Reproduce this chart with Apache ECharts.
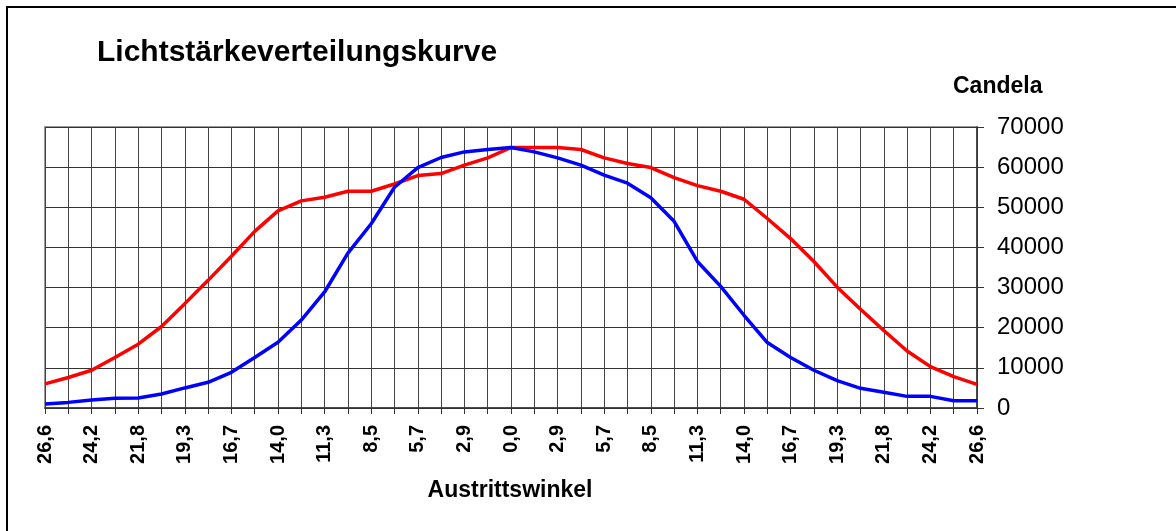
<!DOCTYPE html>
<html>
<head>
<meta charset="utf-8">
<script src="https://cdn.jsdelivr.net/npm/echarts@6.0.0/dist/echarts.min.js"></script>
<style>
  html, body { margin: 0; padding: 0; background: #fff; }
  #chart { width: 1176px; height: 531px; }
</style>
</head>
<body>
<div id="chart"></div>
<script>
// Austrittswinkel in Grad, von -26,6 über 0 bis +26,6 (nur Betrag beschriftet)
const angles = [
  '26,6', '25,4', '24,2', '23,0', '21,8', '20,6', '19,3', '18,0', '16,7', '15,4',
  '14,0', '12,7', '11,3', '9,9', '8,5', '7,1', '5,7', '4,3', '2,9', '1,4',
  '0,0',
  '1,4', '2,9', '4,3', '5,7', '7,1', '8,5', '9,9', '11,3', '12,7',
  '14,0', '15,4', '16,7', '18,0', '19,3', '20,6', '21,8', '23,0', '24,2', '25,4', '26,6'
];

// Lichtstärke in Candela
const redCurve = [
  6000, 7600, 9400, 12600, 15900, 20300, 26000, 31800, 37800, 44000,
  49100, 51600, 52500, 54000, 54000, 55800, 57900, 58400, 60500, 62300,
  64900,
  64900, 64900, 64400, 62300, 60900, 59900, 57400, 55400, 54000,
  52000, 47200, 42200, 36500, 30100, 24600, 19300, 14200, 10300, 7800, 5900
];

const blueCurve = [
  1000, 1400, 2000, 2400, 2500, 3500, 5000, 6400, 8900, 12600,
  16400, 21900, 28900, 38600, 45900, 55000, 59900, 62400, 63800, 64400,
  64900,
  63800, 62300, 60500, 58000, 56000, 52400, 46500, 36500, 30300,
  23100, 16300, 12600, 9400, 6800, 4900, 3900, 2900, 2900, 1800, 1800
];

const yTicks = [0, 10000, 20000, 30000, 40000, 50000, 60000, 70000];

const fontFamily = '"Liberation Sans", Arial, sans-serif';

function makeLineSeries(name, data, color) {
  return {
    name: name,
    type: 'line',
    data: data,
    showSymbol: false,
    symbol: 'none',
    smooth: false,
    lineStyle: { color: color, width: 3.5 },
    z: 5
  };
}

const chart = echarts.init(document.getElementById('chart'), null, { renderer: 'canvas' });

const option = {
  backgroundColor: '#fff',
  animation: false,
  title: {
    text: 'Lichtstärkeverteilungskurve',
    left: 97,
    top: 38,
    padding: 0,
    textStyle: { fontFamily: fontFamily, fontSize: 30, fontWeight: 'bold', color: '#000' }
  },
  graphic: [
    {
      type: 'rect',
      shape: { x: 7, y: 7, width: 1220, height: 600 },
      style: { fill: null, stroke: '#000', lineWidth: 2 },
      silent: true
    },
    {
      type: 'text',
      x: 953,
      y: 75,
      style: {
        text: 'Candela',
        fill: '#000',
        font: 'bold 23px ' + fontFamily
      }
    },
    {
      type: 'text',
      x: 510,
      y: 479,
      style: {
        text: 'Austrittswinkel',
        fill: '#000',
        textAlign: 'center',
        font: 'bold 23px ' + fontFamily
      }
    }
  ],
  grid: {
    left: 45,
    top: 127,
    width: 932,
    height: 281,
    show: true,
    borderColor: '#999',
    borderWidth: 2,
    backgroundColor: '#fff'
  },
  xAxis: {
    type: 'category',
    data: angles,
    boundaryGap: false,
    axisLine: { show: true, lineStyle: { color: '#333', width: 1.5 } },
    axisTick: { show: true, interval: 0, length: 6, lineStyle: { color: '#333' } },
    splitLine: { show: true, interval: 0, lineStyle: { color: '#444', width: 1 } },
    axisLabel: {
      interval: 1,
      rotate: 90,
      margin: 17,
      color: '#000',
      fontFamily: fontFamily,
      fontSize: 20,
      fontWeight: 'bold'
    }
  },
  yAxis: {
    type: 'value',
    position: 'right',
    min: yTicks[0],
    max: yTicks[yTicks.length - 1],
    interval: 10000,
    axisLine: { show: true, lineStyle: { color: '#333', width: 1.5 } },
    axisTick: { show: true, length: 7, lineStyle: { color: '#333' } },
    splitLine: { show: true, lineStyle: { color: '#333', width: 1 } },
    axisLabel: {
      margin: 20,
      color: '#000',
      fontFamily: fontFamily,
      fontSize: 24,
      formatter: function (val) {
        return String(val);
      }
    }
  },
  series: [
    makeLineSeries('rot', redCurve, '#ff0000'),
    makeLineSeries('blau', blueCurve, '#0000ff')
  ]
};

chart.setOption(option);
</script>
</body>
</html>
